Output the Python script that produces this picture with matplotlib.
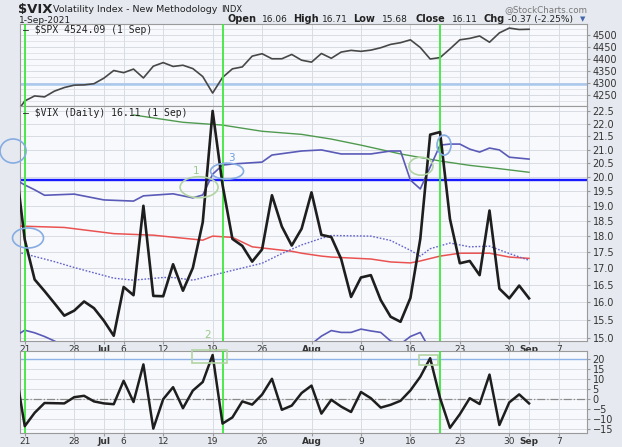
import numpy as np
import pandas as pd
import matplotlib
matplotlib.use('Agg')
import matplotlib.pyplot as plt
from matplotlib.patches import Ellipse, Rectangle
from matplotlib.ticker import NullLocator, NullFormatter

# trading days on the chart, Jun 18 sits just off the left edge
days = pd.bdate_range('2021-06-18', '2021-09-10')
days = days[~days.isin(pd.to_datetime(['2021-07-05', '2021-09-06']))]
pos = {d.strftime('%m-%d'): i for i, d in enumerate(days)}
close_days = [d.strftime('%m-%d') for d in days if d <= pd.Timestamp('2021-09-01')]

# daily closes (Jun 18 .. Sep 1)
spx = [4166, 4225, 4246, 4242, 4266, 4281, 4291, 4292, 4297,
       4320, 4352, 4343, 4358, 4321, 4370, 4385, 4369, 4374, 4360, 4327,
       4258, 4323, 4359, 4367, 4412, 4422, 4401, 4401, 4419, 4395,
       4387, 4423, 4403, 4429, 4436, 4432, 4437, 4447, 4461, 4468, 4480,
       4448, 4400, 4406, 4442, 4480, 4486, 4496, 4470, 4509, 4529, 4523,
       4524]
vix = [20.70, 17.89, 16.66, 16.32, 15.97, 15.62, 15.76, 16.02, 15.83,
       15.48, 15.07, 16.44, 16.20, 19.00, 16.18, 16.17, 17.12, 16.33, 17.01,
       18.45, 22.50, 19.73, 17.91, 17.69, 17.20, 17.58, 19.36, 18.31, 17.70,
       18.24,
       19.46, 18.04, 17.97, 17.28, 16.15, 16.72, 16.79, 16.06, 15.59, 15.45,
       16.12, 17.91, 21.57, 21.67, 18.56, 17.15, 17.22, 16.79, 18.84, 16.39,
       16.11, 16.48,
       16.11]
roc = [16.6, -13.6, -6.9, -2.0, -2.1, -2.2, 0.9, 1.6, -1.2,
       -2.2, -2.6, 9.1, -1.5, 17.3, -14.8, -0.1, 5.9, -4.6, 4.2, 8.5,
       22.0, -12.3, -9.2, -1.2, -2.8, 2.2, 10.1, -5.4, -3.3, 3.0,
       6.7, -7.3, -0.4, -3.8, -6.5, 3.5, 0.4, -4.3, -2.9, -0.9, 4.3,
       11.1, 20.4, 0.5, -14.4, -7.6, 0.4, -2.5, 12.2, -13.0, -1.7, 2.3,
       -2.2]

# overlay lines, read at these dates
green_days = ['07-07', '07-14', '07-20', '07-26', '07-30', '08-04', '08-09',
              '08-13', '08-19', '08-24', '08-27', '09-01']
green_vals = [22.34, 22.05, 21.94, 21.70, 21.58, 21.40, 21.17, 20.84, 20.58,
              20.42, 20.30, 20.17]
red_days = ['06-18', '06-25', '07-01', '07-02', '07-09', '07-16', '07-19',
            '07-21', '07-23', '07-29', '07-30', '08-03', '08-04', '08-10',
            '08-12', '08-16', '08-17', '08-19', '08-23', '08-26', '08-30',
            '09-01']
red_vals = [18.33, 18.28, 18.12, 18.08, 18.03, 17.87, 18.00, 17.96, 17.66,
            17.52, 17.46, 17.37, 17.34, 17.28, 17.19, 17.16, 17.22, 17.37,
            17.46, 17.46, 17.34, 17.30]
mid_days = ['06-18', '06-24', '06-28', '07-02', '07-07', '07-12', '07-13',
            '07-15', '07-20', '07-26', '07-28', '07-30', '08-03', '08-04',
            '08-10', '08-12', '08-16', '08-17', '08-18', '08-20', '08-24',
            '08-26', '08-30', '09-01']
mid_vals = [17.52, 17.20, 17.02, 16.70, 16.64, 16.72, 16.72, 16.64, 16.86,
            17.15, 17.45, 17.72, 17.93, 18.02, 18.00, 17.86, 17.55, 17.37,
            17.60, 17.78, 17.66, 17.68, 17.45, 17.24]
upper_days = ['06-18', '06-21', '06-22', '06-23', '06-28', '07-01', '07-07',
              '07-08', '07-13', '07-15', '07-16', '07-19', '07-20', '07-21',
              '07-26', '07-27', '07-29', '07-30', '08-03', '08-05', '08-10',
              '08-12', '08-13', '08-16', '08-17', '08-19', '08-20', '08-23',
              '08-24', '08-25', '08-26', '08-27', '08-30', '09-01']
upper_vals = [19.92, 19.72, 19.55, 19.36, 19.40, 19.20, 19.16, 19.34, 19.41,
              19.27, 19.37, 20.10, 20.43, 20.47, 20.54, 20.80, 20.90, 20.95,
              20.99, 20.84, 20.84, 20.95, 20.95, 19.89, 19.58, 21.17, 21.21,
              21.21, 21.02, 20.91, 21.06, 20.99, 20.72, 20.65]
lower_days = ['06-18', '06-21', '06-22', '06-23', '06-24', '06-25',
              '07-30', '08-02', '08-03', '08-04', '08-05', '08-06', '08-09',
              '08-10', '08-11', '08-12', '08-13', '08-16', '08-17', '08-18']
lower_vals = [15.05, 15.22, 15.15, 15.05, 14.93, 14.80,
              np.nan, 14.85, 15.06, 15.21, 15.16, 15.16, 15.25, 15.20, 15.16,
              14.93, 14.85, 15.05, 15.16, 14.70]

mark_days = ['06-21', '07-20', '08-19']
tick_days = ['06-21', '06-28', '07-01', '07-06', '07-12', '07-19', '07-26',
             '08-02', '08-09', '08-16', '08-23', '08-30', '09-01', '09-07']
tick_text = ['21', '28', 'Jul', '6', '12', '19', '26', 'Aug', '9', '16', '23',
             '30', 'Sep', '7']

bg = '#e6eaf0'
panel = '#f8f9fc'
gridc = '#d9dce2'
txt = '#333333'

fig = plt.figure(figsize=(6.22, 4.47), dpi=100, facecolor=bg)
L, W = 20 / 622, 567 / 622
ax1 = fig.add_axes([L, 1 - 106 / 447, W, 82 / 447])
ax2 = fig.add_axes([L, 1 - 341 / 447, W, 235 / 447])
ax3 = fig.add_axes([L, 1 - 433 / 447, W, 82 / 447])

x_all = [pos[d] for d in close_days]
xt = [pos[d] for d in tick_days]

for ax in (ax1, ax2, ax3):
    ax.set_facecolor(panel)
    ax.set_xlim(0.52, 57.86)
    ax.yaxis.tick_right()
    ax.set_xticks(xt)
    ax.tick_params(axis='y', labelsize=7, length=2, color='#999999',
                   labelcolor=txt, pad=2)
    ax.tick_params(axis='x', labelsize=6.5, length=2, color='#999999',
                   labelcolor=txt, pad=1)
    ax.grid(True, color=gridc, lw=0.7)
    ax.set_axisbelow(True)
    for s in ax.spines.values():
        s.set_color('#9a9a9a')
        s.set_linewidth(0.8)
    for d in mark_days:
        ax.axvline(pos[d], color='#3ee83e', lw=1.3, zorder=4)

# --- SPX panel
ax1.plot(x_all, spx, color='#474747', lw=1.2, zorder=3)
ax1.axhline(4294, color='#a9c8ec', lw=1.8, zorder=2)
ax1.set_ylim(4204, 4546)
ax1.set_yticks([4250, 4300, 4350, 4400, 4450, 4500])
ax1.set_yticks([4225, 4275, 4325, 4375, 4425, 4475, 4525], minor=True)
ax1.tick_params(axis='y', which='minor', length=0)
ax1.grid(True, which='minor', axis='y', color=gridc, lw=0.5)
ax1.set_xticklabels([])
ax1.tick_params(axis='x', length=0)
ax1.text(0.006, 0.925, '\u2014 $SPX 4524.09 (1 Sep)', transform=ax1.transAxes,
         family='DejaVu Sans Mono', fontsize=7, color='#222222', va='center',
         zorder=6)

# --- VIX panel
ax2.set_yscale('log')
ax2.set_ylim(14.93, 22.70)
vt = np.arange(15.0, 22.51, 0.5)
ax2.yaxis.set_minor_locator(NullLocator())
ax2.yaxis.set_minor_formatter(NullFormatter())
ax2.set_yticks(vt)
ax2.set_yticklabels(['%.1f' % v for v in vt])
ax2.axhline(19.9, color='#1a1aff', lw=1.7, zorder=2)
ax2.plot([pos[d] for d in green_days], green_vals, color='#4f9a4f', lw=1.0, zorder=3)
ax2.plot([pos[d] for d in red_days], red_vals, color='#ea5252', lw=1.1, zorder=3)
ax2.plot([pos[d] for d in mid_days], mid_vals, color='#6363cc', lw=1.0,
         ls=(0, (1.2, 1.2)), zorder=3)
ax2.plot([pos[d] for d in upper_days], upper_vals, color='#5a5ab8', lw=1.2, zorder=3)
ax2.plot([pos[d] for d in lower_days], lower_vals, color='#5a5ab8', lw=1.2, zorder=3)
ax2.plot(x_all, vix, color='#1e1e1e', lw=1.9, zorder=5)
ax2.text(0.006, 0.972, '\u2014 $VIX (Daily) 16.11 (1 Sep)', transform=ax2.transAxes,
         family='DejaVu Sans Mono', fontsize=7, color='#222222', va='center',
         zorder=6)
ax2.set_xticklabels(tick_text)

# --- ROC panel
ax3.plot(x_all, roc, color='#1e1e1e', lw=1.8, zorder=5)
ax3.axhline(20, color='#8fb3e6', lw=1.0, zorder=2)
ax3.axhline(0, color='#8a8a8a', lw=0.9, ls='-.', zorder=2)
ax3.set_ylim(-17, 24)
ax3.set_yticks([-15, -10, -5, 0, 5, 10, 15, 20])
ax3.set_xticklabels(tick_text)

for ax in (ax2, ax3):
    for lab in ax.get_xticklabels():
        if lab.get_text() in ('Jul', 'Aug', 'Sep'):
            lab.set_fontweight('bold')

# hand-drawn marks
blue_ring = '#86ace2'
green_ring = '#b2d4a4'
rings = [
    (ax2, '06-18', -0.18, 20.95, 26, 24, blue_ring),
    (ax2, '06-21', 0.33, 17.94, 31, 20, blue_ring),
    (ax2, '07-16', -0.37, 19.64, 38, 21, green_ring),
    (ax2, '07-20', 0.46, 20.21, 33, 16, blue_ring),
    (ax2, '08-17', 0.07, 20.39, 24, 18, green_ring),
    (ax2, '08-19', 0.40, 21.17, 14, 20, blue_ring),
]
for ax, d, sh, v, w, h, c in rings:
    px, py = ax.transData.transform((pos[d] + sh, v))
    fig.patches.append(Ellipse((px, py), w, h, fill=False, ec=c, lw=1.2,
                               transform=None, zorder=8))
boxes = [(ax3, '07-19', -0.35, 21.25, 35, 13), (ax3, '08-18', -0.2, 19.5, 19, 10)]
for ax, d, sh, v, w, h in boxes:
    px, py = ax.transData.transform((pos[d] + sh, v))
    fig.patches.append(Rectangle((px - w / 2, py - h / 2), w, h, fill=False,
                                 ec=green_ring, lw=1.2, transform=None, zorder=8))
ax2.text(pos['07-16'] - 0.66, 20.21, '1', color='#9cc98c', fontsize=7.5,
         ha='center', va='center', zorder=8)
ax2.text(pos['07-20'] + 0.87, 20.69, '3', color='#6f9de0', fontsize=7.5,
         ha='center', va='center', zorder=8)
ax2.text(pos['07-19'] - 0.55, 15.08, '2', color='#9cc98c', fontsize=7.5,
         ha='center', va='center', zorder=8)

# header
def head(x, y, s, color='#222222', **kw):
    fig.text(x / 622, 1 - y / 447, s, va='center', color=color, **kw)

head(18, 10, '$VIX', fontsize=9.5, fontweight='bold')
head(53, 10, 'Volatility Index - New Methodology', fontsize=6.8)
head(221, 10, 'INDX', fontsize=6)
head(19, 20.5, '1-Sep-2021', fontsize=6.5)
parts = [(228, 'Open', True), (262, '16.06', False), (293, 'High', True),
         (322, '16.71', False), (353, 'Low', True), (382, '15.68', False),
         (415, 'Close', True), (452, '16.11', False), (483, 'Chg', True),
         (508, '-0.37 (-2.25%)', False)]
for x, s, b in parts:
    head(x, 19.5, s, fontsize=7 if b else 6.5, fontweight='bold' if b else 'normal')
head(580, 19.5, '\u25bc', color='#4466aa', fontsize=5)
fig.text(587 / 622, 1 - 10 / 447, '@StockCharts.com', ha='right', va='center',
         fontsize=6.3, color='#777777')

fig.savefig('out.png', dpi=100, facecolor=fig.get_facecolor())
